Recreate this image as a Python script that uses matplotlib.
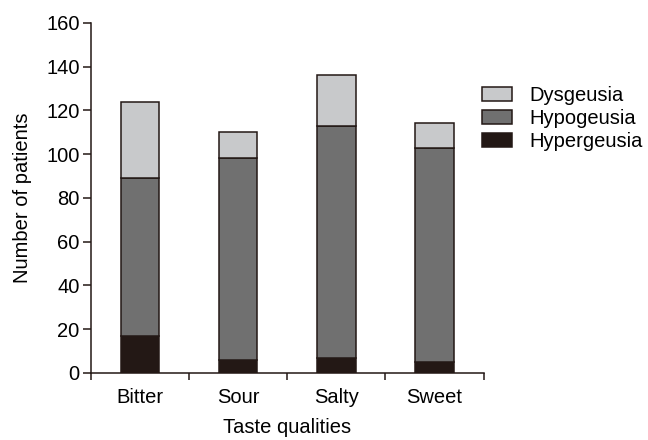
import matplotlib
matplotlib.use("Agg")
import matplotlib.pyplot as plt
import numpy as np

categories = ["Bitter", "Sour", "Salty", "Sweet"]
hypergeusia = [17, 6, 7, 5]
hypogeusia = [72, 92, 106, 98]
dysgeusia = [35, 12, 23, 11]

plt.rcParams['font.family'] = ['Liberation Sans', 'DejaVu Sans']
fs = 14.5

fig = plt.figure(figsize=(6.48, 4.4), dpi=100)
ax = fig.add_axes([0.140, 0.1523, 0.6065, 0.796])

x = np.arange(len(categories)) + 0.5
w = 0.39
edge = '#231815'
hyper = np.array(hypergeusia)
hypo = np.array(hypogeusia)
dys = np.array(dysgeusia)
ax.bar(x, hyper, w, color='#231815', edgecolor=edge, linewidth=1.1, label='Hypergeusia')
ax.bar(x, hypo, w, bottom=hyper, color='#707070', edgecolor=edge, linewidth=1.1, label='Hypogeusia')
ax.bar(x, dys, w, bottom=hyper + hypo, color='#c8c9cb', edgecolor=edge, linewidth=1.1, label='Dysgeusia')

ax.set_xlim(0, 4)
ax.set_ylim(0, 160)
ax.set_yticks(range(0, 161, 20))
ax.set_xticks(range(0, 5))
ax.set_xticklabels([])
ax.set_xticks(x, minor=True)
ax.set_xticklabels(categories, minor=True)
ax.tick_params(axis='x', which='minor', length=0, pad=11, labelsize=fs)
ax.tick_params(axis='x', which='major', direction='out', length=5, width=1.1, color=edge)
ax.tick_params(axis='y', direction='out', length=6, width=1.1, color=edge,
               labelsize=fs, pad=2)

for s in ['top', 'right']:
    ax.spines[s].set_visible(False)
for s in ['left', 'bottom']:
    ax.spines[s].set_linewidth(1.1)
    ax.spines[s].set_color(edge)

ax.set_xlabel('Taste qualities', fontsize=fs, labelpad=8)
ax.set_ylabel('Number of patients', fontsize=fs, labelpad=10)

handles, labels = ax.get_legend_handles_labels()
ax.legend(handles[::-1], labels[::-1], loc='upper left', bbox_to_anchor=(0.995, 0.82),
          frameon=False, fontsize=fs, handlelength=1.49, handleheight=0.7,
          labelspacing=0.2, handletextpad=0.85, borderpad=0, borderaxespad=0)

fig.savefig('out.png', dpi=100)
